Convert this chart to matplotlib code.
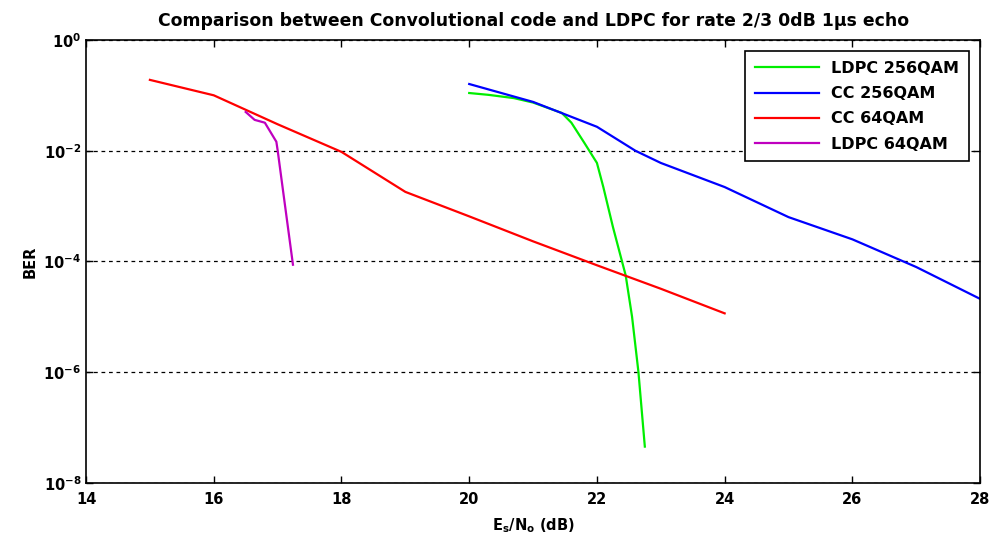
import matplotlib
matplotlib.use("Agg")
import matplotlib.pyplot as plt
from matplotlib.ticker import NullLocator, FixedLocator

# LDPC 256QAM
ldpc256_x = [20.0, 20.3, 20.7, 21.0, 21.45, 21.6, 21.8, 22.0, 22.1, 22.25, 22.45, 22.55, 22.65, 22.75]
ldpc256_y = [1.1e-1, 1.02e-1, 8.9e-2, 7.4e-2, 4.8e-2, 3.2e-2, 1.4e-2, 6.0e-3, 2.2e-3, 4.2e-4, 5.6e-5, 1.0e-5, 1.0e-6, 4.5e-8]

# CC 256QAM
cc256_x = [20, 21, 22, 22.6, 23, 24, 25, 26, 27, 28]
cc256_y = [1.6e-1, 7.6e-2, 2.7e-2, 1.0e-2, 6.0e-3, 2.2e-3, 6.3e-4, 2.5e-4, 7.9e-5, 2.1e-5]

# CC 64QAM
cc64_x = [15, 16, 17, 18, 19, 20, 21, 22, 23, 24]
cc64_y = [1.9e-1, 1.0e-1, 3.0e-2, 9.5e-3, 1.8e-3, 6.5e-4, 2.3e-4, 8.5e-5, 3.2e-5, 1.15e-5]

# LDPC 64QAM
ldpc64_x = [16.5, 16.64, 16.8, 16.98, 17.0, 17.09, 17.24]
ldpc64_y = [5.0e-2, 3.6e-2, 3.2e-2, 1.45e-2, 1.02e-2, 1.7e-3, 8.7e-5]

x_ticks = [14, 16, 18, 20, 22, 24, 26, 28]
y_ticks = [1e-8, 1e-6, 1e-4, 1e-2, 1e0]

fig = plt.figure(figsize=(9.89, 5.4), dpi=100)
ax = fig.add_axes([0.087, 0.106, 0.904, 0.820])

ax.plot(ldpc256_x, ldpc256_y, color="#00ee00", lw=1.6, label="LDPC 256QAM")
ax.plot(cc256_x, cc256_y, color="#0000ff", lw=1.6, label="CC 256QAM")
ax.plot(cc64_x, cc64_y, color="#ff0000", lw=1.6, label="CC 64QAM")
ax.plot(ldpc64_x, ldpc64_y, color="#bf00bf", lw=1.6, label="LDPC 64QAM")

ax.set_yscale("log")
ax.set_xlim(14, 28)
ax.set_ylim(1e-8, 1e0)
ax.xaxis.set_major_locator(FixedLocator(x_ticks))
ax.yaxis.set_major_locator(FixedLocator(y_ticks))
ax.yaxis.set_minor_locator(NullLocator())
ax.set_yticklabels([r"$\mathbf{10^{-8}}$", r"$\mathbf{10^{-6}}$", r"$\mathbf{10^{-4}}$",
                    r"$\mathbf{10^{-2}}$", r"$\mathbf{10^{0}}$"])
ax.tick_params(direction="in", top=True, right=True, length=5, width=1, labelsize=10.5)
ax.tick_params(axis="x", pad=7)
for lab in ax.get_xticklabels():
    lab.set_fontweight("bold")
ax.yaxis.grid(True, linestyle=(0, (3, 3)), color="black", linewidth=0.9)
for s in ax.spines.values():
    s.set_linewidth(1.2)

ax.set_title("Comparison between Convolutional code and LDPC for rate 2/3 0dB 1\u03bcs echo",
             fontsize=12.4, fontweight="bold", pad=10)
ax.set_xlabel(r"$\mathbf{E_s/N_o}$ (dB)", fontsize=10.5, fontweight="bold", labelpad=6)
ax.set_ylabel("BER", fontsize=10.5, fontweight="bold")

leg = ax.legend(loc="upper right", prop={"weight": "bold", "size": 11.5},
                fancybox=False, edgecolor="black", framealpha=1, handlelength=4.0,
                labelspacing=0.65, borderaxespad=0.7, borderpad=0.6)
leg.get_frame().set_linewidth(1.2)

fig.savefig("out.png", dpi=100)
